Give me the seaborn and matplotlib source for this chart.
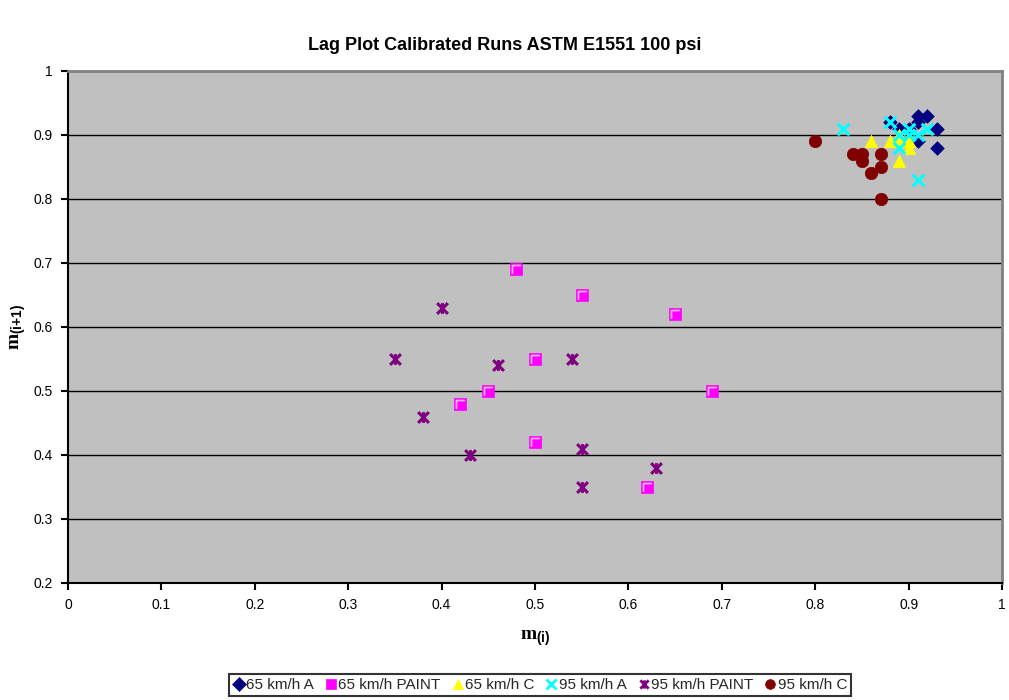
import matplotlib
matplotlib.use("Agg")
import matplotlib.pyplot as plt
from matplotlib.path import Path
from matplotlib.lines import Line2D
import seaborn as sns
import pandas as pd

# ---- data ----
a65_x = [0.88, 0.91, 0.92, 0.91, 0.93, 0.89, 0.90, 0.91, 0.93]
a65_y = [0.92, 0.93, 0.93, 0.92, 0.91, 0.91, 0.91, 0.89, 0.88]

p65_x = [0.48, 0.55, 0.65, 0.50, 0.45, 0.69, 0.42, 0.50, 0.62]
p65_y = [0.69, 0.65, 0.62, 0.55, 0.50, 0.50, 0.48, 0.42, 0.35]

c65_x = [0.86, 0.88, 0.89, 0.89, 0.90, 0.89, 0.90]
c65_y = [0.89, 0.89, 0.90, 0.89, 0.88, 0.86, 0.89]

a95_x = [0.83, 0.88, 0.90, 0.92, 0.89, 0.89, 0.90, 0.91, 0.91]
a95_y = [0.91, 0.92, 0.91, 0.91, 0.90, 0.88, 0.90, 0.90, 0.83]

p95_x = [0.40, 0.35, 0.46, 0.54, 0.38, 0.43, 0.55, 0.63, 0.55]
p95_y = [0.63, 0.55, 0.54, 0.55, 0.46, 0.40, 0.41, 0.38, 0.35]

c95_x = [0.80, 0.84, 0.85, 0.85, 0.87, 0.86, 0.87, 0.87]
c95_y = [0.89, 0.87, 0.87, 0.86, 0.87, 0.84, 0.85, 0.80]

series_names = ["65 km/h A", "65 km/h PAINT", "65 km/h C",
                "95 km/h A", "95 km/h PAINT", "95 km/h C"]
xs = [a65_x, p65_x, c65_x, a95_x, p95_x, c95_x]
ys = [a65_y, p65_y, c65_y, a95_y, p95_y, c95_y]

x_ticks = [0, 0.1, 0.2, 0.3, 0.4, 0.5, 0.6, 0.7, 0.8, 0.9, 1]
y_ticks = [0.2, 0.3, 0.4, 0.5, 0.6, 0.7, 0.8, 0.9, 1]

# ---- styles ----
star_path = Path(
    [(-1, -1), (1, 1), (-1, 1), (1, -1), (0, -1), (0, 1)],
    [Path.MOVETO, Path.LINETO, Path.MOVETO, Path.LINETO, Path.MOVETO, Path.LINETO],
)
gamma_path = Path(
    [(-0.45, -0.45), (-0.45, 0.45), (0.45, 0.45), (-0.45, 0.45), (-0.45, -0.45)],
    [Path.MOVETO, Path.LINETO, Path.LINETO, Path.LINETO, Path.LINETO],
)
styles = [
    dict(marker="D", color="#000080", s=48, kind="filled"),
    dict(marker="s", color="#FF00FF", s=64, kind="filled"),
    dict(marker="^", color="#FFFF00", s=80, kind="filled"),
    dict(marker="x", color="#00FFFF", s=70, kind="line"),
    dict(marker=star_path, color="#800080", s=60, kind="path"),
    dict(marker="o", color="#800000", s=80, kind="filled"),
]

sns.set_theme(style="white")
plt.rcParams["font.family"] = ["Liberation Sans", "DejaVu Sans"]
plt.rcParams["mathtext.fontset"] = "custom"
plt.rcParams["mathtext.rm"] = "Liberation Serif"
plt.rcParams["mathtext.bf"] = "Liberation Serif:bold"
plt.rcParams["mathtext.sf"] = "Liberation Sans:bold"

fig = plt.figure(figsize=(10.09, 7.0), dpi=100)
ax = fig.add_axes([68 / 1009, 1 - 583 / 700, (1002 - 68) / 1009, (583 - 71) / 700])
ax.set_facecolor("#C0C0C0")

rows = []
for name, xv, yv in zip(series_names, xs, ys):
    for a, b in zip(xv, yv):
        rows.append({"series": name, "m_i": a, "m_i1": b})
df = pd.DataFrame(rows)

for name, st in zip(series_names, styles):
    sub = df[df["series"] == name]
    if st["kind"] == "filled":
        sns.scatterplot(data=sub, x="m_i", y="m_i1", ax=ax, marker=st["marker"],
                        color=st["color"], s=st["s"], edgecolor=st["color"],
                        linewidth=0.5, legend=False, zorder=3)
    elif st["kind"] == "line":
        sns.scatterplot(data=sub, x="m_i", y="m_i1", ax=ax, marker=st["marker"],
                        color=st["color"], s=st["s"], linewidth=2.2,
                        legend=False, zorder=3)
    else:
        sns.scatterplot(data=sub, x="m_i", y="m_i1", ax=ax, marker=st["marker"],
                        color=st["color"], s=st["s"], edgecolor=st["color"],
                        linewidth=2.2, legend=False, zorder=3)
    if name == "65 km/h PAINT":
        sns.scatterplot(data=sub, x="m_i", y="m_i1", ax=ax, marker=gamma_path,
                        color="#FFB0FF", s=30, edgecolor="#FFB0FF",
                        linewidth=1.0, legend=False, zorder=4)

ax.set_xlim(0, 1)
ax.set_ylim(0.2, 1)
ax.set_xticks(x_ticks)
ax.set_xticklabels([f"{t:g}" for t in x_ticks])
ax.set_yticks(y_ticks)
ax.set_yticklabels([f"{t:g}" for t in y_ticks])
for t in y_ticks[1:-1]:
    ax.axhline(t, color="black", lw=1.0, zorder=1)

ax.tick_params(axis="both", direction="out", length=5, width=1.5, color="black",
               labelsize=10, labelcolor="black", pad=6, bottom=True, left=True)
for side in ["top", "right"]:
    ax.spines[side].set_color("#808080")
    ax.spines[side].set_linewidth(2)
for side in ["left", "bottom"]:
    ax.spines[side].set_color("black")
    ax.spines[side].set_linewidth(1.5)

ax.set_xlabel(r"$\mathbf{m}_{\mathsf{(i)}}$", fontsize=14, labelpad=12, color="black")
ax.set_ylabel(r"$\mathbf{m}_{\mathsf{(i{+}1)}}$", fontsize=14, labelpad=4, color="black")

fig.text(0.5, 1 - 45 / 700, "Lag Plot Calibrated Runs ASTM E1551 100 psi",
         ha="center", va="center", fontsize=13, fontweight="bold", color="black")

handles = []
for name, st in zip(series_names, styles):
    if st["kind"] == "filled":
        h = Line2D([], [], linestyle="none", marker=st["marker"], color=st["color"],
                   markersize=7, markeredgewidth=0.5)
    else:
        h = Line2D([], [], linestyle="none", marker=st["marker"], color=st["color"],
                   markersize=6 if st["kind"] == "path" else 7, markeredgewidth=2)
    handles.append(h)
leg = fig.legend(handles, series_names, loc="center", bbox_to_anchor=(540 / 1009, 1 - 685 / 700),
                 ncol=6, fontsize=11, frameon=True, fancybox=False, handlelength=0.8,
                 handletextpad=0.1, columnspacing=0.7, borderpad=0.25, borderaxespad=0)
leg.get_frame().set_edgecolor("black")
leg.get_frame().set_linewidth(1.5)

fig.savefig("out.png", dpi=100)
